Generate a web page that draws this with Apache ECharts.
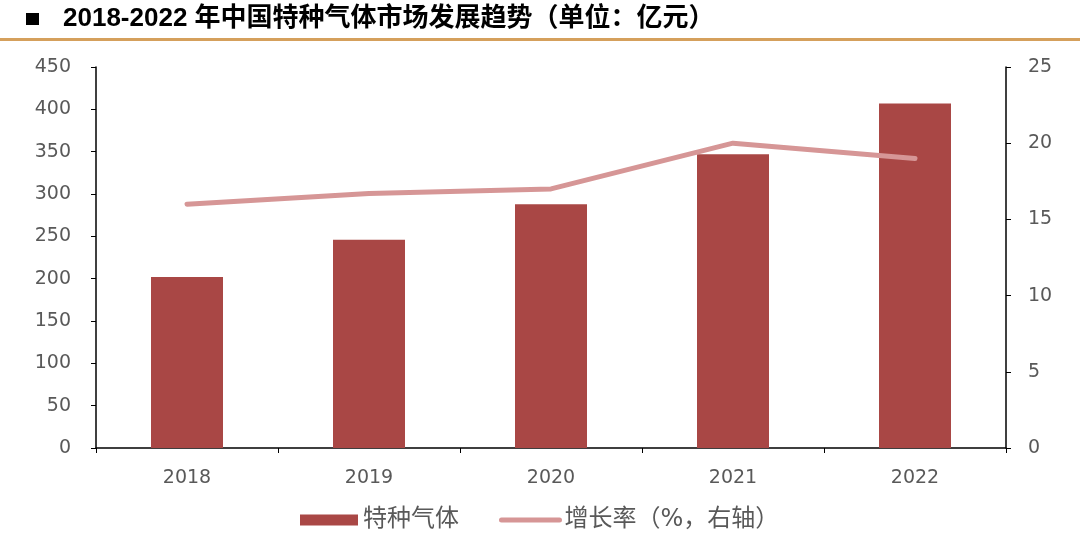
<!DOCTYPE html>
<html>
<head>
<meta charset="utf-8">
<script src="https://cdn.jsdelivr.net/npm/echarts@6/dist/echarts.min.js"></script>
<style>
  html, body { margin: 0; padding: 0; background: #fff; }
  #chart { width: 1080px; height: 540px; }
</style>
</head>
<body>
<div id="chart"></div>
<script>
const years = ['2018', '2019', '2020', '2021', '2022'];
const marketSize = [202, 246, 288, 347, 407];
const growthRate = [16.0, 16.7, 17.0, 20.0, 19.0];

const labelFont = '"DejaVu Sans", Verdana, sans-serif';
const cjkFont = '"DejaVu Sans", "Noto Sans CJK SC", sans-serif';

const chart = echarts.init(document.getElementById('chart'));

const option = {
    animation: false,
    title: {
        text: '2018-2022 年中国特种气体市场发展趋势（单位：亿元）',
        left: 58,
        top: 1,
        textStyle: {
            fontFamily: '"Liberation Sans", Arial, "Noto Sans CJK SC", sans-serif',
            fontWeight: 'bold',
            fontSize: 26,
            color: '#000'
        }
    },
    graphic: [
        { type: 'rect', shape: { x: 26, y: 13, width: 13, height: 12 }, style: { fill: '#000' } },
        { type: 'rect', shape: { x: 0, y: 38, width: 1080, height: 3 }, style: { fill: '#d5a05c' } }
    ],
    legend: {
        bottom: 3,
        left: 295,
        itemGap: 40,
        itemWidth: 58,
        itemHeight: 11,
        textStyle: { fontFamily: cjkFont, fontSize: 24, color: '#595959' },
        data: [
            { name: '特种气体', icon: 'rect' },
            { name: '增长率（%，右轴）', itemStyle: { opacity: 0 }, lineStyle: { width: 5, cap: 'round' } }
        ]
    },
    grid: { left: 96, right: 74, top: 67, bottom: 92 },
    xAxis: {
        type: 'category',
        data: years,
        axisLine: { lineStyle: { color: '#000', width: 1.5 } },
        axisTick: { show: true, length: 5, lineStyle: { color: '#000' } },
        axisLabel: { fontFamily: labelFont, fontSize: 19, color: '#595959', margin: 21 }
    },
    yAxis: [
        {
            type: 'value',
            min: 0, max: 450, interval: 50,
            axisLine: { show: true, lineStyle: { color: '#000', width: 1.5 } },
            axisTick: { show: true, length: 5, lineStyle: { color: '#000' } },
            splitLine: { show: false },
            axisLabel: { fontFamily: labelFont, fontSize: 19, color: '#595959', margin: 25 }
        },
        {
            type: 'value',
            min: 0, max: 25, interval: 5,
            axisLine: { show: true, lineStyle: { color: '#000', width: 1.5 } },
            axisTick: { show: true, length: 5, lineStyle: { color: '#000' } },
            splitLine: { show: false },
            axisLabel: { fontFamily: labelFont, fontSize: 19, color: '#595959', margin: 22 }
        }
    ],
    series: [
        {
            name: '特种气体',
            type: 'bar',
            data: marketSize,
            barWidth: 72,
            itemStyle: { color: '#a94745' }
        },
        {
            name: '增长率（%，右轴）',
            type: 'line',
            yAxisIndex: 1,
            data: growthRate,
            symbol: 'none',
            lineStyle: { color: '#d69696', width: 5, cap: 'round' },
            itemStyle: { color: '#d69696' }
        }
    ]
};

chart.setOption(option);
</script>
</body>
</html>
